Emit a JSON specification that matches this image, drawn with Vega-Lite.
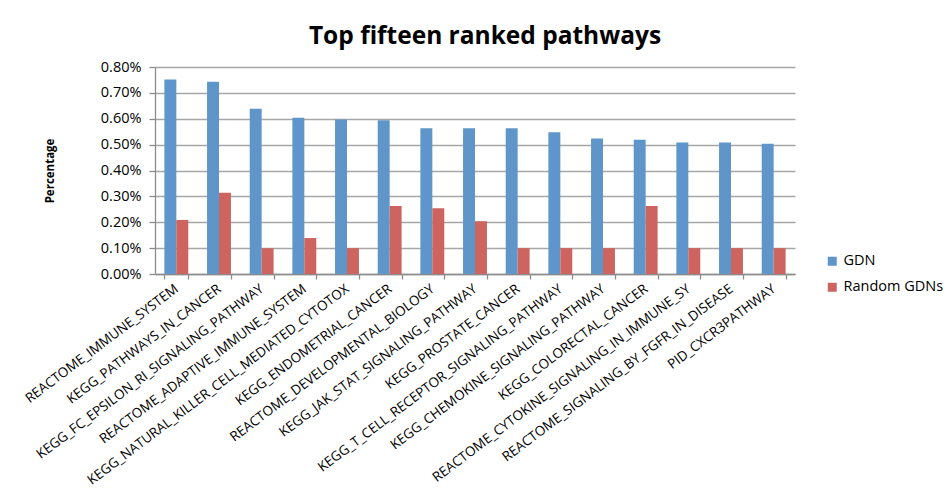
{
  "$schema": "https://vega.github.io/schema/vega-lite/v6.json",
  "width": 640,
  "height": 207,
  "autosize": {"type": "none"},
  "padding": {"left": 155, "top": 67, "right": 155, "bottom": 215},
  "background": "white",
  "title": {
    "text": "Top fifteen ranked pathways",
    "font": "Open Sans",
    "fontSize": 24.5,
    "fontWeight": "bold",
    "color": "#000000",
    "anchor": "middle",
    "offset": 10,
    "dx": 10
  },
  "data": {
    "values": [
      {"pathway": "REACTOME_IMMUNE_SYSTEM", "series": "GDN", "value": 0.00752},
      {"pathway": "REACTOME_IMMUNE_SYSTEM", "series": "Random GDNs", "value": 0.00209},
      {"pathway": "KEGG_PATHWAYS_IN_CANCER", "series": "GDN", "value": 0.00743},
      {"pathway": "KEGG_PATHWAYS_IN_CANCER", "series": "Random GDNs", "value": 0.00314},
      {"pathway": "KEGG_FC_EPSILON_RI_SIGNALING_PATHWAY", "series": "GDN", "value": 0.00639},
      {"pathway": "KEGG_FC_EPSILON_RI_SIGNALING_PATHWAY", "series": "Random GDNs", "value": 0.001},
      {"pathway": "REACTOME_ADAPTIVE_IMMUNE_SYSTEM", "series": "GDN", "value": 0.00604},
      {"pathway": "REACTOME_ADAPTIVE_IMMUNE_SYSTEM", "series": "Random GDNs", "value": 0.00139},
      {"pathway": "KEGG_NATURAL_KILLER_CELL_MEDIATED_CYTOTOX", "series": "GDN", "value": 0.00597},
      {"pathway": "KEGG_NATURAL_KILLER_CELL_MEDIATED_CYTOTOX", "series": "Random GDNs", "value": 0.001},
      {"pathway": "KEGG_ENDOMETRIAL_CANCER", "series": "GDN", "value": 0.00594},
      {"pathway": "KEGG_ENDOMETRIAL_CANCER", "series": "Random GDNs", "value": 0.00263},
      {"pathway": "REACTOME_DEVELOPMENTAL_BIOLOGY", "series": "GDN", "value": 0.00563},
      {"pathway": "REACTOME_DEVELOPMENTAL_BIOLOGY", "series": "Random GDNs", "value": 0.00254},
      {"pathway": "KEGG_JAK_STAT_SIGNALING_PATHWAY", "series": "GDN", "value": 0.00563},
      {"pathway": "KEGG_JAK_STAT_SIGNALING_PATHWAY", "series": "Random GDNs", "value": 0.00204},
      {"pathway": "KEGG_PROSTATE_CANCER", "series": "GDN", "value": 0.00563},
      {"pathway": "KEGG_PROSTATE_CANCER", "series": "Random GDNs", "value": 0.001},
      {"pathway": "KEGG_T_CELL_RECEPTOR_SIGNALING_PATHWAY", "series": "GDN", "value": 0.00548},
      {"pathway": "KEGG_T_CELL_RECEPTOR_SIGNALING_PATHWAY", "series": "Random GDNs", "value": 0.001},
      {"pathway": "KEGG_CHEMOKINE_SIGNALING_PATHWAY", "series": "GDN", "value": 0.00524},
      {"pathway": "KEGG_CHEMOKINE_SIGNALING_PATHWAY", "series": "Random GDNs", "value": 0.001},
      {"pathway": "KEGG_COLORECTAL_CANCER", "series": "GDN", "value": 0.00519},
      {"pathway": "KEGG_COLORECTAL_CANCER", "series": "Random GDNs", "value": 0.00263},
      {"pathway": "REACTOME_CYTOKINE_SIGNALING_IN_IMMUNE_SY", "series": "GDN", "value": 0.00508},
      {"pathway": "REACTOME_CYTOKINE_SIGNALING_IN_IMMUNE_SY", "series": "Random GDNs", "value": 0.001},
      {"pathway": "REACTOME_SIGNALING_BY_FGFR_IN_DISEASE", "series": "GDN", "value": 0.00508},
      {"pathway": "REACTOME_SIGNALING_BY_FGFR_IN_DISEASE", "series": "Random GDNs", "value": 0.001},
      {"pathway": "PID_CXCR3PATHWAY", "series": "GDN", "value": 0.00503},
      {"pathway": "PID_CXCR3PATHWAY", "series": "Random GDNs", "value": 0.001}
    ]
  },
  "mark": {"type": "bar"},
  "encoding": {
    "x": {
      "field": "pathway",
      "type": "nominal",
      "sort": null,
      "title": null,
      "scale": {"paddingInner": 0.44, "paddingOuter": 0.22},
      "axis": {
        "labelAngle": -37,
        "labelAlign": "right",
        "labelBaseline": "middle",
        "labelFontSize": 13.5,
        "labelColor": "#000000",
        "labelPadding": 8,
        "tickBand": "extent",
        "tickSize": 5,
        "tickColor": "#8c8c8c",
        "domainColor": "#8c8c8c",
        "labelLimit": 400
      }
    },
    "xOffset": {"field": "series", "type": "nominal", "sort": ["GDN", "Random GDNs"]},
    "y": {
      "field": "value",
      "type": "quantitative",
      "title": "Percentage",
      "scale": {"domain": [0, 0.008], "nice": false},
      "axis": {
        "format": ".2%",
        "values": [0, 0.001, 0.002, 0.003, 0.004, 0.005, 0.006, 0.007, 0.008],
        "labelFontSize": 14.5,
        "labelColor": "#000000",
        "labelPadding": 8,
        "tickSize": 6,
        "tickColor": "#8c8c8c",
        "domainColor": "#8c8c8c",
        "gridColor": "#a6a6a6",
        "gridWidth": 1.3,
        "titleFontSize": 11.5,
        "titleFontWeight": "bold",
        "titleColor": "#000000",
        "titlePadding": 45
      }
    },
    "color": {
      "field": "series",
      "type": "nominal",
      "sort": ["GDN", "Random GDNs"],
      "scale": {"domain": ["GDN", "Random GDNs"], "range": ["#5F96C9", "#CD645F"]},
      "legend": {
        "title": null,
        "orient": "none",
        "legendX": 670,
        "legendY": 187,
        "symbolType": "square",
        "symbolSize": 81,
        "symbolStrokeWidth": 0,
        "labelFontSize": 14.5,
        "labelColor": "#000000",
        "rowPadding": 11,
        "labelOffset": 4
      }
    }
  },
  "config": {
    "font": "Open Sans",
    "view": {"stroke": null},
    "axis": {"domainWidth": 1.3, "tickWidth": 1.3}
  }
}
